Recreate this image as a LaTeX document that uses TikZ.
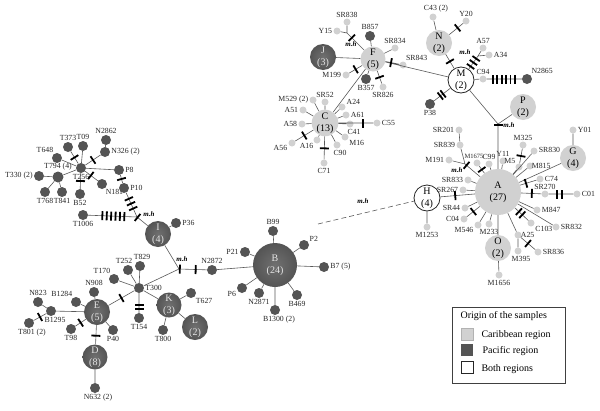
\documentclass[tikz,border=0pt]{standalone}
\usepackage{fontspec}
\setmainfont{Liberation Serif}
\definecolor{carib}{gray}{0.82}
\definecolor{pacif}{gray}{0.33}
\definecolor{pacin}{gray}{0.44}
\definecolor{kante}{gray}{0.35}
\newcommand{\hapfont}{\fontsize{10}{12}\selectfont}
\newcommand{\labfont}{\fontsize{7.8}{8}\selectfont}
\newcommand{\legfont}{\fontsize{10}{11}\selectfont}
\tikzset{
  car/.style={circle, fill=carib, inner sep=0pt, minimum size=7pt},
  pac/.style={circle, fill=pacif, inner sep=0pt, minimum size=10pt},
  hapc/.style={circle, fill=carib, inner sep=0pt, minimum size=#1, align=center, font=\hapfont},
  happ/.style={circle, shading=radial, inner color=pacin, outer color=pacif, text=white!90!black, inner sep=0pt, minimum size=#1, align=center, font=\hapfont},
  hapb/.style={circle, draw=black!85, line width=0.8pt, fill=white, inner sep=0pt, minimum size=#1, align=center, font=\hapfont},
  kan/.style={draw=kante, line width=0.6pt},
  mut/.style={sloped, fill=black, inner sep=0pt, minimum width=1.8pt, minimum height=9pt},
  mh/.style={font=\fontsize{7}{7}\selectfont\bfseries\itshape, inner sep=1pt},
  every label/.style={font=\labfont, text=black!85, inner sep=1pt}
}
\begin{document}
\begin{tikzpicture}[x=1pt, y=-1pt]
  \useasboundingbox (0,0) rectangle (600,410);

  % Gruppe links oben
  \node[pac, label=below:T256] (t256) at (81,168) {};
  \node[pac, minimum size=11pt, label={above:T794 (4)}] (t794) at (58,177) {};
  \node[pac, label={120:T648}] (t648) at (57,158) {};
  \node[pac, label=above:T373] (t373) at (68,147) {};
  \node[pac, label=above:T09] (t09) at (83,146) {};
  \node[pac, label={right:N326 (2)}] (n326) at (105,152) {};
  \node[pac, label=above:N2862] (n2862) at (106,140) {};
  \node[pac, label={left:T330 (2)}] (t330) at (39,176) {};
  \node[pac, label=below:T768] (t768) at (45,192) {};
  \node[pac, label=below:T841] (t841) at (62,192) {};
  \node[pac, label=below:B52] (b52) at (80,194) {};
  \node[pac, label={-60:N181}] (n181) at (102,184) {};
  \node[pac, label=right:P8] (p8) at (119,170) {};
  \node[pac, label=right:P10] (p10) at (124,188) {};
  \node[pac, label=below:T1006] (t1006) at (83,215) {};
  \coordinate (mh1) at (137,217);
  \node[mh] (mhl1) at (149,214) {m.h};
  \node[happ=26pt] (i) at (158,234) {I\\(4)};
  \node[pac, label=right:P36] (p36) at (176,223) {};

  % Gruppe links unten
  \coordinate (mh2) at (179,269);
  \node[mh] (mhl2) at (182,259) {m.h};
  \node[pac, label=above:N2872] (n2872) at (212,270) {};
  \node[pac, label=right:T300] (t300) at (139,288) {};
  \node[pac, label={[xshift=2pt]above:T829}] (t829) at (140,266) {};
  \node[pac, label={[xshift=-4pt]above:T252}] (t252) at (128,270) {};
  \node[pac, label={120:T170}] (t170) at (114,279) {};
  \node[pac, label=below:T154] (t154) at (139,318) {};
  \node[happ=25pt] (k) at (169,305) {K\\(3)};
  \node[pac, label={-45:T627}] (t627) at (191,293) {};
  \node[pac, label=below:T800] (t800) at (163,330) {};
  \node[happ=26pt] (l) at (195,327) {L\\(2)};
  \node[happ=26pt] (e) at (97,312) {E\\(5)};
  \node[pac, label=above:N908] (n908) at (94,292) {};
  \node[pac, label={120:B1284}] (b1284) at (76,302) {};
  \node[pac, label={[xshift=4pt]below:B1295}] (b1295) at (51,311) {};
  \node[pac, label=above:N823] (n823) at (38,302) {};
  \node[pac, label={[xshift=3pt]below:T801 (2)}] (t801) at (29,323) {};
  \node[pac, label=below:T98] (t98) at (71,329) {};
  \node[pac, label=below:P40] (p40) at (113,330) {};
  \node[happ=25pt] (d) at (95,357) {D\\(8)};
  \node[pac, label={[xshift=3pt]below:N632 (2)}] (n632) at (95,388) {};

  % Gruppe B
  \node[happ=44pt] (b) at (275,265) {B\\(24)};
  \node[pac, label=above:B99] (b99) at (273,231) {};
  \node[pac, label={30:P2}] (p2) at (304,245) {};
  \node[pac, label=left:P21] (p21) at (245,252) {};
  \node[pac, label={right:B7 (5)}] (b7) at (324,267) {};
  \node[pac, label={200:P6}] (p6) at (242,288) {};
  \node[pac, label=below:N2871] (n2871) at (259,293) {};
  \node[pac, label=below:B469] (b469) at (297,295) {};
  \node[pac, label={[xshift=4pt]below:B1300 (2)}] (b1300) at (275,310) {};
  \coordinate (ds) at (318,224);
  \node[mh] (mhl0) at (363,201) {m.h};

  % Gruppe C
  \node[hapc=25pt] (c) at (325,123) {C\\(13)};
  \node[car, label=above:SR52] (sr52) at (325,102) {};
  \node[car, label={left:M529 (2)}] (m529) at (313,100) {};
  \node[car, label=left:A51] (a51) at (303,110) {};
  \node[car, label=left:A58] (a58) at (302,124) {};
  \node[car, label={190:A56}] (a56) at (292,143) {};
  \node[car, label={below left:A16}] (a16) at (317,140) {};
  \node[car, label=below:C71] (c71) at (324,163) {};
  \node[car, label={[xshift=3pt]below:C90}] (c90) at (337,145) {};
  \node[car, label={-30:M16}] (m16) at (345,137) {};
  \node[car, label={[xshift=4pt]below:C41}] (c41) at (350,124) {};
  \node[car, label=right:A61] (a61) at (346,115) {};
  \node[car, label={20:A24}] (a24) at (342,107) {};
  \node[car, label=right:C55] (c55) at (377,123) {};

  % Gruppe F
  \node[hapc=25pt] (f) at (373,59) {F\\(5)};
  \node[happ=26pt] (j) at (323,57) {J\\(3)};
  \coordinate (mhf) at (347,33);
  \node[mh] (mhlf) at (351,44) {m.h};
  \node[car, label=above:SR838] (sr838) at (347,22) {};
  \node[car, label=left:Y15] (y15) at (337,31) {};
  \node[pac, label=above:B857] (b857) at (370,36) {};
  \node[car, label=left:M199] (m199) at (346,75) {};
  \node[pac, label=below:B357] (b357) at (366,79) {};
  \node[car, label=below:SR826] (sr826) at (383,87) {};
  \node[car, label={60:SR843}] (sr843) at (403,65) {};
  \node[car, label=above:SR834] (sr834) at (395,48) {};

  % Gruppe M
  \node[hapb=26pt] (m) at (461,80) {M\\(2)};
  \node[hapc=26pt] (n) at (439,43) {N\\(2)};
  \node[car, label={[xshift=3pt]above:C43 (2)}] (c43) at (433,17) {};
  \node[car, label=above:Y20] (y20) at (466,21) {};
  \coordinate (mhm) at (478,56);
  \node[mh] (mhlm) at (465,52) {m.h};
  \node[car, label=above:A57] (a57) at (483,48) {};
  \node[car, label=right:A34] (a34) at (489,55) {};
  \node[car, label=above:C94] (c94) at (483,79) {};
  \node[pac, label={50:N2865}] (n2865) at (527,79) {};
  \node[pac, label=below:P38] (p38) at (430,104) {};
  \node[hapc=26pt] (p) at (523,107) {P\\(2)};
  \coordinate (mh3) at (498,124);
  \node[mh] (mhl3) at (509,125) {m.h};

  % Gruppe A
  \node[hapc=46pt] (a) at (498,192) {A\\(27)};
  \node[hapb=26pt] (h) at (427,198) {H\\(4)};
  \node[car, label=below:M1253] (m1253) at (427,227) {};
  \coordinate (mha) at (465,164);
  \node[mh] (mhla) at (457,170) {m.h};
  \node[car, label=left:M191] (m191) at (449,160) {};
  \node[car, label=left:SR839] (sr839) at (460,145) {};
  \node[car, label=left:SR201] (sr201) at (459,130) {};
  \node[car, label={[font=\fontsize{6.5}{7}\selectfont, xshift=-3pt]above:M1675}] (m1675) at (477,163) {};
  \node[car, label=above:C99] (c99) at (489,164) {};
  \node[car, label=above:Y11] (y11) at (503,161) {};
  \node[car, label={135:M5}] (m5) at (519,167) {};
  \node[car, label=above:M325] (m325) at (523,145) {};
  \node[car, label={[xshift=-3pt]right:M815}] (m815) at (530,166) {};
  \node[car, label={[yshift=1pt]right:SR830}] (sr830) at (534,151) {};
  \node[hapc=26pt] (g) at (573,158) {G\\(4)};
  \node[car, label=right:Y01] (y01) at (573,130) {};
  \node[car, label=right:C74] (c74) at (540,179) {};
  \node[car, label=above:SR270] (sr270) at (545,194) {};
  \node[car, label=right:C01] (c01) at (577,194) {};
  \node[car, label=right:M847] (m847) at (537,210) {};
  \node[car, label=right:SR832] (sr832) at (556,227) {};
  \node[car, label={-30:C103}] (c103) at (531,223) {};
  \node[car, label={[xshift=-2pt]right:A25}] (a25) at (518,235) {};
  \node[car, label={[xshift=3pt]below:M395}] (m395) at (518,251) {};
  \node[car, label=right:SR836] (sr836) at (538,252) {};
  \node[hapc=26pt] (o) at (498,248) {O\\(2)};
  \node[car, label=below:M1656] (m1656) at (499,275) {};
  \node[car, label=below:M233] (m233) at (489,224) {};
  \node[car, label={200:M546}] (m546) at (478,225) {};
  \node[car, label=left:C04] (c04) at (464,219) {};
  \node[car, label=left:SR44] (sr44) at (465,208) {};
  \node[car, label=left:SR267] (sr267) at (463,190) {};
  \node[car, label=left:SR833] (sr833) at (468,180) {};

  % Kanten links
  \draw[kan] (t256) -- (t794) (t794) -- (t330) (t794) -- (t768) (t794) -- (t841)
    (t256) -- (t648) (t256) -- node[mut]{} (t373) (t256) -- (t09)
    (t256) -- node[mut]{} (n326) (n326) -- (n2862)
    (t256) -- node[mut,pos=.45]{} (n181) (t256) -- node[mut]{} (b52)
    (t256) -- (p8) (p8) -- node[mut]{} (p10)
    (p10) -- node[mut,pos=.25]{} node[mut,pos=.45]{} node[mut,pos=.65]{} (mh1)
    (t1006) -- node[mut,pos=.29]{} node[mut,pos=.38]{} node[mut,pos=.47]{}
      node[mut,pos=.56]{} node[mut,pos=.65]{} node[mut,pos=.74]{} (mh1)
    (mh1) -- node[mut,pos=.05]{} (i) (i) -- (p36)
    (i) -- (mh2) (t300) -- (mh2)
    (mh2) -- node[mut,pos=.03]{} node[mut,pos=.6]{} (n2872);
  \draw[kan] (t300) -- (t829) (t300) -- (t252) (t300) -- (t170)
    (t300) -- node[mut]{} (e) (t300) -- node[mut,pos=.6]{} node[mut,pos=.8]{} (t154)
    (t300) -- (k) (k) -- (t627) (k) -- (t800) (k) -- (l)
    (e) -- (n908) (e) -- (b1284) (e) -- (b1295) (e) -- node[mut]{} (t98) (e) -- (p40)
    (b1295) -- (n823) (b1295) -- node[mut]{} (t801)
    (e) -- node[mut,pos=.55]{} (d) (d) -- (n632);

  % Kanten B
  \draw[kan] (n2872) -- (b) (b) -- (b99) (b) -- (p2) (b) -- (p21) (b) -- (b7)
    (b) -- (p6) (b) -- (n2871) (b) -- (b469) (b) -- (b1300);
  \draw[kan, dash pattern=on 5pt off 3pt] (ds) -- (h);

  % Kanten C und F
  \draw[kan] (c) -- (m529) (c) -- (sr52) (c) -- (a24) (c) -- (a61) (c) -- (c41)
    (c) -- (m16) (c) -- (c90) (c) -- node[mut,pos=.52]{} (c71) (c) -- (a16)
    (c) -- node[mut]{} (a56) (c) -- (a58) (c) -- (a51)
    (c) -- node[mut,pos=.7]{} (c55) (c) -- (f);
  \draw[kan] (j) -- (f) (mhf) -- node[mut,pos=.28]{} (f) (mhf) -- (sr838) (mhf) -- (y15)
    (f) -- (b857) (f) -- node[mut]{} (m199) (f) -- (b357)
    (f) -- node[mut]{} (sr826) (f) -- node[mut,pos=.4]{} (sr843) (f) -- (sr834)
    (f) -- (m);

  % Kanten M
  \draw[kan] (m) -- node[mut]{} (n) (n) -- (c43) (n) -- node[mut,pos=.6]{} (y20)
    (m) -- node[mut,pos=.2]{} node[mut,pos=.5]{} node[mut,pos=.8]{} (mhm)
    (mhm) -- (a57) (mhm) -- (a34) (m) -- (c94)
    (c94) -- node[mut,pos=.18]{} node[mut,pos=.3]{} node[mut,pos=.43]{}
      node[mut,pos=.55]{} node[mut,pos=.68]{} node[mut,pos=.8]{} (n2865)
    (m) -- node[mut,pos=.45]{} node[mut,pos=.62]{} (p38)
    (m) -- (mh3) (p) -- (mh3) (mh3) -- node[mut,pos=.02]{} (a);

  % Kanten A
  \draw[kan] (h) -- node[mut,pos=.43]{} (a) (h) -- (m1253)
    (a) -- node[mut,pos=.9]{} (mha) (mha) -- (m191) (mha) -- (sr839) (sr839) -- (sr201)
    (a) -- node[mut]{} (m1675) (a) -- (c99) (a) -- (y11)
    (a) -- (m5) (m5) -- node[mut]{} (m325)
    (a) -- (m815) (a) -- (sr830) (a) -- (g) (g) -- (y01)
    (a) -- node[mut,pos=.36]{} (c74) (a) -- node[mut,pos=.53]{} (sr270)
    (sr270) -- node[mut,pos=.34]{} node[mut,pos=.54]{} (c01)
    (a) -- (m847) (a) -- (sr832)
    (a) -- node[mut,pos=.3]{} node[mut,pos=.55]{} (c103)
    (a) -- (a25) (a25) -- (m395) (a25) -- node[mut]{} (sr836)
    (a) -- (o) (o) -- (m1656)
    (a) -- (m233) (a) -- (m546) (a) -- node[mut]{} (c04)
    (a) -- (sr44) (a) -- (sr267) (a) -- (sr833);

  % Legende
  \node[draw=black!75, line width=0.6pt, minimum width=113pt, minimum height=76pt, inner sep=0pt] (leg) at (508.5,345) {};
  \node[anchor=west, font=\legfont] (legt) at (457,316) {Origin of the samples};
  \node[fill=carib, draw=carib!85!black, minimum size=12pt, inner sep=0pt] (sq1) at (467,334) {};
  \node[anchor=west, font=\legfont] (leg1) at (478,335) {Caribbean region};
  \node[fill=pacif, minimum size=12pt, inner sep=0pt] (sq2) at (467,350) {};
  \node[anchor=west, font=\legfont] (leg2) at (479,351) {Pacific region};
  \node[fill=white, draw=black!85, minimum size=12pt, inner sep=0pt] (sq3) at (467,367) {};
  \node[anchor=west, font=\legfont] (leg3) at (478,369) {Both regions};
\end{tikzpicture}
\end{document}
